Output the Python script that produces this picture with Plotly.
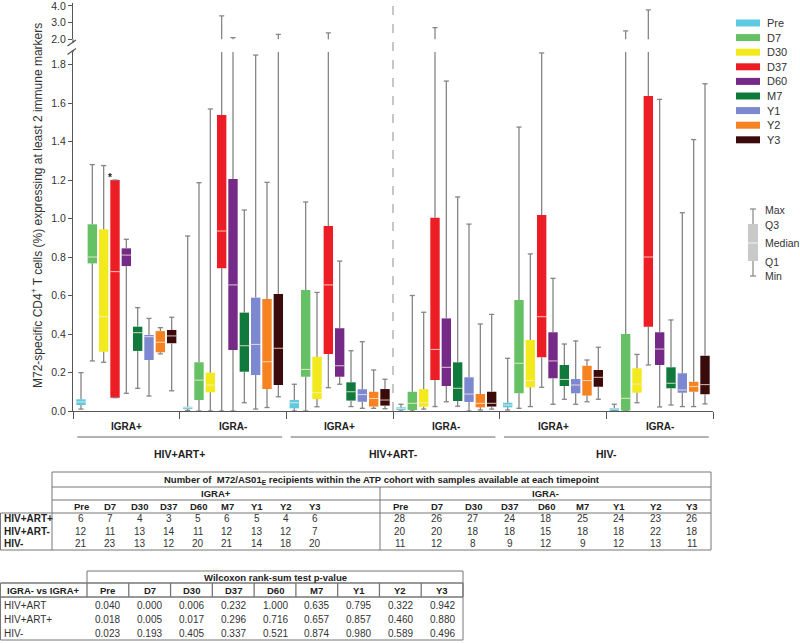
import plotly.graph_objects as go

W, H = 800, 643
FONT = "Liberation Sans, Arial, sans-serif"

timepoints = ["Pre", "D7", "D30", "D37", "D60", "M7", "Y1", "Y2", "Y3"]
colors = ["#5ec9e2", "#66c164", "#f2ea1c", "#ec1d25", "#742a86", "#107a3d",
          "#7c88cf", "#f68222", "#3b0b0c"]
igra_labels = ["IGRA+", "IGRA-", "IGRA+", "IGRA-", "IGRA+", "IGRA-"]
hiv_labels = ["HIV+ART+", "HIV+ART-", "HIV-"]

# box statistics: one row per group (HIV status x IGRA), one value per timepoint
mins = [
    [0.010, 0.260, 0.253, 0.069, 0.092, 0.118, 0.078, 0.297, 0.105],
    [0.003, 0.000, 0.000, 0.000, 0.000, 0.043, 0.010, 0.018, 0.074],
    [0.000, 0.000, 0.022, 0.121, 0.139, 0.023, 0.014, 0.014, 0.012],
    [0.000, 0.000, 0.010, 0.023, 0.048, 0.025, 0.000, 0.005, 0.010],
    [0.005, 0.014, 0.023, 0.123, 0.035, 0.061, 0.035, 0.048, 0.061],
    [0.000, 0.000, 0.043, 0.239, 0.021, 0.031, 0.023, 0.023, 0.037],
]
q1s = [
    [0.031, 0.767, 0.308, 0.069, 0.753, 0.312, 0.265, 0.305, 0.352],
    [0.010, 0.057, 0.097, 0.741, 0.317, 0.204, 0.187, 0.114, 0.135],
    [0.014, 0.178, 0.062, 0.296, 0.178, 0.054, 0.048, 0.023, 0.028],
    [0.005, 0.005, 0.022, 0.161, 0.130, 0.052, 0.047, 0.019, 0.023],
    [0.019, 0.092, 0.123, 0.279, 0.170, 0.130, 0.092, 0.080, 0.126],
    [0.005, 0.002, 0.095, 0.438, 0.239, 0.118, 0.095, 0.100, 0.087],
]
medians = [
    [0.047, 0.800, 0.490, 0.724, 0.810, 0.407, 0.386, 0.357, 0.390],
    [0.017, 0.160, 0.135, 0.935, 0.655, 0.339, 0.346, 0.256, 0.326],
    [0.043, 0.216, 0.095, 0.655, 0.235, 0.100, 0.085, 0.065, 0.057],
    [0.012, 0.040, 0.043, 0.320, 0.227, 0.118, 0.088, 0.040, 0.040],
    [0.031, 0.248, 0.158, 0.490, 0.260, 0.164, 0.135, 0.158, 0.175],
    [0.010, 0.066, 0.140, 0.800, 0.322, 0.144, 0.109, 0.127, 0.137],
]
q3s = [
    [0.061, 0.970, 0.944, 1.200, 0.845, 0.438, 0.395, 0.415, 0.421],
    [0.022, 0.253, 0.199, 1.538, 1.205, 0.511, 0.589, 0.582, 0.608],
    [0.057, 0.629, 0.282, 0.961, 0.430, 0.149, 0.113, 0.100, 0.114],
    [0.019, 0.100, 0.114, 1.004, 0.481, 0.253, 0.175, 0.088, 0.100],
    [0.043, 0.577, 0.369, 1.018, 0.409, 0.239, 0.166, 0.235, 0.213],
    [0.015, 0.400, 0.222, 1.636, 0.409, 0.227, 0.196, 0.152, 0.287],
]
maxs = [
    [0.199, 1.280, 1.275, 1.200, 0.892, 0.537, 0.481, 0.433, 0.487],
    [0.909, 1.186, 1.569, 3.400, 2.100, 1.044, 1.849, 1.188, 2.300],
    [0.139, 1.086, 0.616, 2.380, 0.779, 0.313, 0.360, 0.213, 0.165],
    [0.035, 0.600, 0.513, 2.700, 1.714, 1.112, 0.971, 0.452, 0.502],
    [0.274, 1.475, 0.816, 1.860, 0.689, 0.348, 0.364, 0.265, 0.331],
    [0.035, 2.500, 0.294, 3.760, 1.619, 0.473, 1.030, 1.410, 1.700],
]

# sample-size table
n_igra_pos = [[6, 7, 4, 3, 5, 6, 5, 4, 6],
              [12, 11, 13, 14, 11, 12, 13, 12, 7],
              [21, 23, 13, 12, 20, 21, 14, 18, 20]]
n_igra_neg = [[28, 26, 27, 24, 18, 25, 24, 23, 26],
              [20, 20, 18, 18, 15, 18, 18, 22, 18],
              [11, 12, 8, 9, 12, 9, 12, 13, 11]]
# Wilcoxon table
p_rows = ["HIV+ART", "HIV+ART+", "HIV-"]
p_values = [[0.040, 0.000, 0.006, 0.232, 1.000, 0.635, 0.795, 0.322, 0.942],
            [0.018, 0.005, 0.017, 0.296, 0.716, 0.657, 0.857, 0.460, 0.880],
            [0.023, 0.193, 0.405, 0.337, 0.521, 0.874, 0.980, 0.589, 0.496]]

# ---------------------------------------------------------------------------
OFF, STEP, BW, CAP = 0.075, 0.10625, 0.088, 0.024
LOW_TOP = 1.865
UP_PX = 16.67          # pixels per unit on the upper (broken) axis
WHISK = "#858585"


def xpos(g, t):
    return g + OFF + t * STEP


fig = go.Figure()

# whiskers (segments outside the box) + caps, on both y axes
wx, wy = [], []
for g in range(6):
    for t in range(9):
        x = xpos(g, t)
        wx += [x, x, None, x, x, None,
               x - CAP, x + CAP, None, x - CAP, x + CAP, None]
        wy += [mins[g][t], q1s[g][t], None, q3s[g][t], maxs[g][t], None,
               maxs[g][t], maxs[g][t], None, mins[g][t], mins[g][t], None]
for ya in ["y", "y2"]:
    fig.add_trace(go.Scatter(x=wx, y=wy, mode="lines", yaxis=ya, xaxis="x",
                             line=dict(color=WHISK, width=1.3),
                             hoverinfo="skip", showlegend=False))

# boxes
for t, tp in enumerate(timepoints):
    fig.add_trace(go.Bar(
        x=[xpos(g, t) for g in range(6)],
        base=[q1s[g][t] for g in range(6)],
        y=[q3s[g][t] - q1s[g][t] for g in range(6)],
        width=BW, marker=dict(color=colors[t], line=dict(width=0)),
        name=tp, showlegend=False, xaxis="x", yaxis="y"))

# medians
mx, my = [], []
for g in range(6):
    for t in range(9):
        x = xpos(g, t)
        mx += [x - BW / 2, x + BW / 2, None]
        my += [medians[g][t], medians[g][t], None]
fig.add_trace(go.Scatter(x=mx, y=my, mode="lines", xaxis="x", yaxis="y",
                         line=dict(color="rgba(255,236,220,0.8)", width=1),
                         hoverinfo="skip", showlegend=False))

shapes, annotations = [], []


def px(x):
    return x / W


def py(y):
    return 1 - y / H


def pline(x0, y0, x1, y1, color="#666", width=1, dash=None):
    d = dict(type="line", xref="paper", yref="paper", x0=px(x0), y0=py(y0),
             x1=px(x1), y1=py(y1), line=dict(color=color, width=width))
    if dash:
        d["line"]["dash"] = dash
    shapes.append(d)


def ptext(x, y, text, size=10, bold=False, xanchor="center", color="#222"):
    annotations.append(dict(x=px(x), y=py(y), xref="paper", yref="paper",
                            text=f"<b>{text}</b>" if bold else text,
                            showarrow=False, xanchor=xanchor, yanchor="middle",
                            font=dict(size=size, color=color, family=FONT)))


# dashed separator between HIV+ART+ and HIV+ART-
shapes.append(dict(type="line", xref="x", yref="paper", x0=3, x1=3,
                   y0=py(411), y1=py(5),
                   line=dict(color="#aaaaaa", width=1.3, dash="dash")))

# axis break marks
pline(73, 39.3, 73, 43, color="#555", width=1.2)
pline(73, 50, 73, 52, color="#555", width=1.2)
pline(67.5, 46, 76, 40, color="#555", width=1.2)
pline(67.5, 54.5, 76, 48.5, color="#555", width=1.2)

# y-axis title
annotations.append(dict(x=px(37), y=py(206), xref="paper", yref="paper",
                        text="M72-specific CD4<sup>+</sup> T cells (%) expressing at least 2 immune markers",
                        textangle=-90, showarrow=False, xanchor="center", yanchor="middle",
                        font=dict(size=12, color="#333", family=FONT)))

# asterisk
annotations.append(dict(x=xpos(0, 3) - 0.045, y=1.215, xref="x", yref="y",
                        text="<b>*</b>", showarrow=False,
                        font=dict(size=10, color="#222", family=FONT)))

# group labels
for g, lab in enumerate(igra_labels):
    annotations.append(dict(x=g + 0.5, y=py(426), xref="x", yref="paper",
                            text=f"<b>{lab}</b>", showarrow=False, yanchor="middle",
                            font=dict(size=10, color="#222", family=FONT)))
for k, lab in enumerate(hiv_labels):
    shapes.append(dict(type="line", xref="x", yref="paper",
                       x0=2 * k + 0.04, x1=2 * k + 1.96, y0=py(437), y1=py(437),
                       line=dict(color="#666", width=1)))
    annotations.append(dict(x=2 * k + 1, y=py(454), xref="x", yref="paper",
                            text=f"<b>{lab}</b>", showarrow=False, yanchor="middle",
                            font=dict(size=10.5, color="#222", family=FONT)))

# legend
for t, tp in enumerate(timepoints):
    yc = 23 + t * 14.6
    shapes.append(dict(type="rect", xref="paper", yref="paper",
                       x0=px(736), x1=px(760), y0=py(yc + 3.5), y1=py(yc - 3.5),
                       fillcolor=colors[t], line=dict(width=0)))
    ptext(765, yc, tp, size=11, xanchor="left", color="#333")

# box schematic
pline(753, 209, 753, 276, color=WHISK, width=1.2)
pline(750, 209, 756, 209, color=WHISK, width=1.2)
pline(750, 276, 756, 276, color=WHISK, width=1.2)
shapes.append(dict(type="rect", xref="paper", yref="paper", x0=px(748), x1=px(758),
                   y0=py(261), y1=py(224), fillcolor="#c9c9c9", line=dict(width=0)))
pline(748, 243, 758, 243, color="#f2f2f2", width=1)
for lab, yy in [("Max", 210), ("Q3", 225), ("Median", 243), ("Q1", 262), ("Min", 276)]:
    ptext(763, yy, lab, size=10.5, xanchor="left", color="#333")

# ---------------- table 1: sample sizes ----------------
TC = "#777"
T1L, T1R, T1MID = 52, 711, 380
pline(T1L, 472, T1R, 472, TC)
pline(T1L, 487, T1R, 487, TC)
pline(T1L, 500, T1R, 500, TC)
pline(0.5, 513, T1R, 513, TC)
pline(0.5, 550, T1R, 550, TC)
pline(T1L, 472, T1L, 550, TC)
pline(T1R, 472, T1R, 550, TC)
pline(0.5, 513, 0.5, 550, TC)
pline(T1MID, 487, T1MID, 550, TC)
ptext(382, 479.5, "Number of  M72/AS01<sub>E</sub> recipients within the ATP cohort with samples available at each timepoint",
      size=9.5, bold=True)
ptext((T1L + T1MID) / 2, 493.5, "IGRA+", size=9.5, bold=True)
ptext((T1MID + T1R) / 2, 493.5, "IGRA-", size=9.5, bold=True)
row_y1 = [518.5, 531, 543.5]
for t, tp in enumerate(timepoints):
    xa = 81 + t * 29.25
    xb = 400 + t * 36.5
    ptext(xa, 506.5, tp, size=9.5, bold=True)
    ptext(xb, 506.5, tp, size=9.5, bold=True)
    for r in range(3):
        ptext(xa, row_y1[r], str(n_igra_pos[r][t]), size=10, color="#333")
        ptext(xb, row_y1[r], str(n_igra_neg[r][t]), size=10, color="#333")
for r, lab in enumerate(hiv_labels):
    ptext(2, row_y1[r], lab, size=10, bold=True, xanchor="left")

# ---------------- table 2: Wilcoxon p-values ----------------
T2L, T2R = 87, 463
cw = (T2R - T2L) / 9
pline(T2L, 571, T2R, 571, TC)
pline(T2L, 571, T2L, 583, TC)
pline(T2R, 571, T2R, 583, TC)
ptext((T2L + T2R) / 2, 577, "Wilcoxon rank-sum test p-value", size=9.5, bold=True)
pline(0.5, 583, T2R, 583, TC, width=1.3)
pline(0.5, 597, T2R, 597, TC, width=1.3)
pline(0.5, 583, 0.5, 640, TC)
pline(T2R, 583, T2R, 640, TC)
pline(0.5, 640, T2R, 640, TC)
for c in range(10):
    pline(T2L + c * cw, 583, T2L + c * cw, 597, TC, width=1.3)
ptext(T2L / 2, 590, "IGRA- vs IGRA+", size=9.5, bold=True)
row_y2 = [605, 619, 633]
for t, tp in enumerate(timepoints):
    xc = T2L + (t + 0.5) * cw
    ptext(xc, 590, tp, size=9.5, bold=True)
    for r in range(3):
        ptext(xc, row_y2[r], f"{p_values[r][t]:.3f}", size=10, color="#333")
for r, lab in enumerate(p_rows):
    ptext(2, row_y2[r], lab, size=10, xanchor="left", color="#333")

axis_common = dict(showline=True, linecolor="#555", linewidth=1.2, ticks="outside",
                   tickcolor="#555", ticklen=4, showgrid=False, zeroline=False,
                   ticklabeloverflow="allow",
                   tickfont=dict(size=10.5, color="#333", family=FONT), tickformat=".1f")

fig.update_layout(
    width=W, height=H, autosize=False,
    margin=dict(l=0, r=0, t=0, b=0, pad=0, autoexpand=False),
    paper_bgcolor="white", plot_bgcolor="white",
    barmode="overlay", showlegend=False,
    font=dict(family=FONT),
    xaxis=dict(domain=[px(73), px(713)], range=[0, 6], showline=True, linecolor="#555",
               linewidth=1.2, ticks="outside", tickvals=list(range(7)), ticklen=7,
               tickcolor="#555", showticklabels=False, showgrid=False, zeroline=False,
               anchor="y"),
    yaxis=dict(domain=[py(411), py(52)], range=[0, LOW_TOP], anchor="x",
               tickvals=[0, 0.2, 0.4, 0.6, 0.8, 1.0, 1.2, 1.4, 1.6, 1.8], **axis_common),
    yaxis2=dict(domain=[py(39.3), py(3)], range=[2, 2 + (39.3 - 3) / UP_PX], anchor="x",
                tickvals=[2, 3, 4], **axis_common),
    shapes=shapes, annotations=annotations,
)

post = """
(function(){
  var de=document.documentElement, b=document.body;
  [de,b].forEach(function(e){e.style.margin='0';e.style.padding='0';
     e.style.overflow='hidden';e.style.height='643px';});
  b.style.fontSize='0'; b.style.lineHeight='0';
})();
"""

fig.write_html("out.html", config={"displayModeBar": False}, post_script=post)
